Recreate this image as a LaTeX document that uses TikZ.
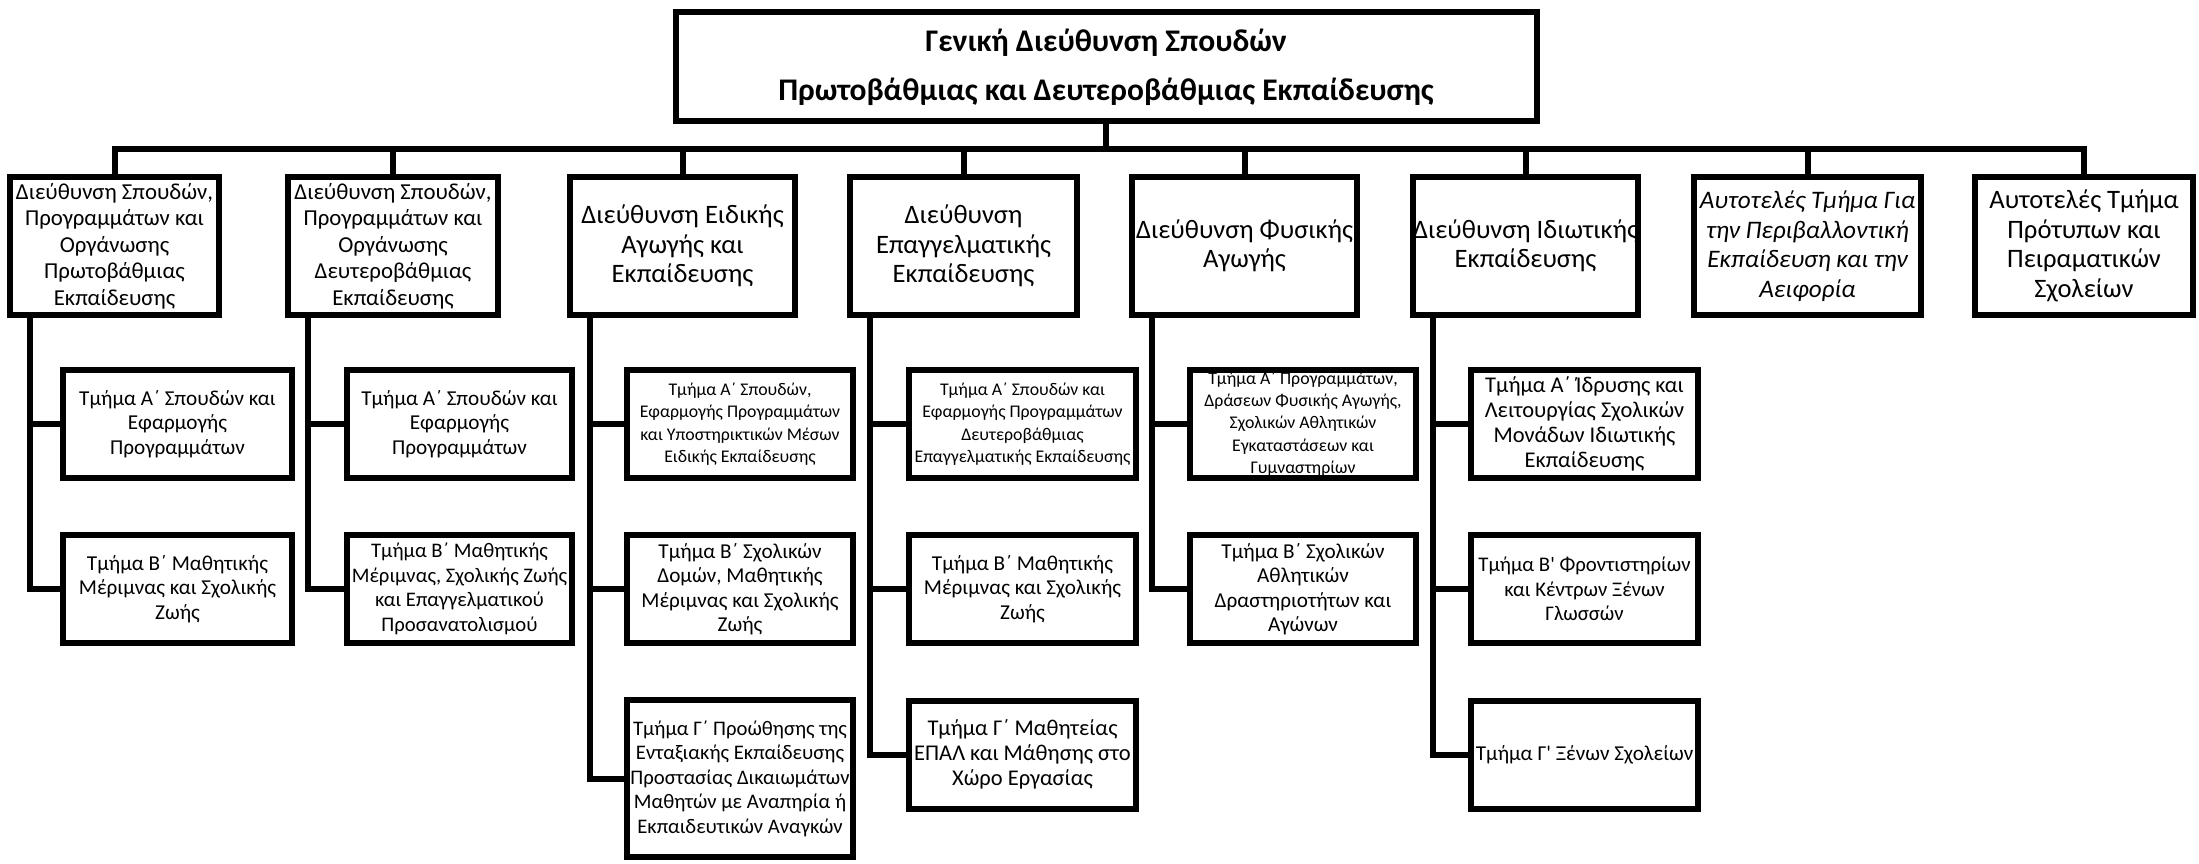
\documentclass[tikz,border=0pt]{standalone}
\usepackage{fontspec}
\setmainfont{Carlito}[Ligatures=TeXOff]

\begin{document}
\begin{tikzpicture}[x=1pt,y=-1pt,
  headbox/.style={draw,line width=6pt,inner sep=0pt,minimum width=861pt,minimum height=109pt,align=center,font=\bfseries\fontsize{31.5}{49}\selectfont},
  dirbox/.style={draw,line width=6pt,inner sep=0pt,minimum height=138pt,align=center,font=\fontsize{26.6}{29.5}\selectfont},
  deptbox/.style={draw,line width=6pt,inner sep=0pt,minimum height=108pt,align=center,font=\fontsize{21.2}{24.5}\selectfont},
  smalltext/.style={font=\fontsize{17.8}{22.4}\selectfont},
  link/.style={line width=6pt}]
  \useasboundingbox (0,0) rectangle (2199,864);

  % General directorate
  \node[headbox] (gd) at (1106,67) {Γενική Διεύθυνση Σπουδών\\Πρωτοβάθμιας και Δευτεροβάθμιας Εκπαίδευσης};
  \coordinate (bus) at (0,149);

  % Directorates
  \node[dirbox,minimum width=209pt,font=\fontsize{22.8}{26.5}\selectfont] (d1) at (114.5,246) {Διεύθυνση Σπουδών,\\Προγραμμάτων και\\Οργάνωσης\\Πρωτοβάθμιας\\Εκπαίδευσης};
  \node[dirbox,minimum width=210pt,font=\fontsize{22.8}{26.5}\selectfont] (d2) at (393,246) {Διεύθυνση Σπουδών,\\Προγραμμάτων και\\Οργάνωσης\\Δευτεροβάθμιας\\Εκπαίδευσης};
  \node[dirbox,minimum width=225pt] (d3) at (682.5,246) {Διεύθυνση Ειδικής\\Αγωγής και\\Εκπαίδευσης};
  \node[dirbox,minimum width=227pt] (d4) at (963.5,246) {Διεύθυνση\\Επαγγελματικής\\Εκπαίδευσης};
  \node[dirbox,minimum width=225pt] (d5) at (1244.5,246) {Διεύθυνση Φυσικής\\Αγωγής};
  \node[dirbox,minimum width=225pt] (d6) at (1525.5,246) {Διεύθυνση Ιδιωτικής\\Εκπαίδευσης};
  \node[dirbox,minimum width=227pt,font=\itshape\fontsize{25.2}{29.5}\selectfont] (d7) at (1807.5,246) {Αυτοτελές Τμήμα Για\\την Περιβαλλοντική\\Εκπαίδευση και την\\Αειφορία};
  \node[dirbox,minimum width=218pt] (d8) at (2084,246) {Αυτοτελές Τμήμα\\Πρότυπων και\\Πειραματικών\\Σχολείων};

  \draw[link] (gd.south) -- (gd.south |- bus);
  \draw[link] (d1.north) -- (d1.north |- bus) -- (d8.north |- bus) -- (d8.north);
  \foreach \n in {2,...,7}
    \draw[link] (d\n.north) -- (d\n.north |- bus);

  % Departments
  \node[deptbox,minimum width=229pt] (t1a) at (177.5,424) {Τμήμα Α΄ Σπουδών και\\Εφαρμογής\\Προγραμμάτων};
  \node[deptbox,minimum width=229pt] (t1b) at (177.5,589) {Τμήμα Β΄ Μαθητικής\\Μέριμνας και Σχολικής\\Ζωής};
  \node[deptbox,minimum width=225pt] (t2a) at (459.5,424) {Τμήμα Α΄ Σπουδών και\\Εφαρμογής\\Προγραμμάτων};
  \node[deptbox,minimum width=225pt,font=\fontsize{20.7}{24.5}\selectfont] (t2b) at (459.5,589) {Τμήμα Β΄ Μαθητικής\\Μέριμνας, Σχολικής Ζωής\\και Επαγγελματικού\\Προσανατολισμού};
  \node[deptbox,smalltext,minimum width=226pt] (t3a) at (740,424) {Τμήμα Α΄ Σπουδών,\\Εφαρμογής Προγραμμάτων\\και Υποστηρικτικών Μέσων\\Ειδικής Εκπαίδευσης};
  \node[deptbox,minimum width=226pt] (t3b) at (740,589) {Τμήμα Β΄ Σχολικών\\Δομών, Μαθητικής\\Μέριμνας και Σχολικής\\Ζωής};
  \node[deptbox,minimum width=226pt,minimum height=157pt,font=\fontsize{20.7}{24.5}\selectfont] (t3c) at (740,778.5) {Τμήμα Γ΄ Προώθησης της\\Ενταξιακής Εκπαίδευσης\\Προστασίας Δικαιωμάτων\\Μαθητών με Αναπηρία ή\\Εκπαιδευτικών Αναγκών};
  \node[deptbox,smalltext,minimum width=227pt] (t4a) at (1022.5,424) {Τμήμα Α΄ Σπουδών και\\Εφαρμογής Προγραμμάτων\\Δευτεροβάθμιας\\Επαγγελματικής Εκπαίδευσης};
  \node[deptbox,minimum width=227pt] (t4b) at (1022.5,589) {Τμήμα Β΄ Μαθητικής\\Μέριμνας και Σχολικής\\Ζωής};
  \node[deptbox,minimum width=227pt,font=\fontsize{22.5}{25}\selectfont] (t4c) at (1022.5,754.5) {Τμήμα Γ΄ Μαθητείας\\ΕΠΑΛ και Μάθησης στο\\Χώρο Εργασίας};
  \node[deptbox,smalltext,minimum width=226pt] (t5a) at (1303,424) {Τμήμα Α΄ Προγραμμάτων,\\Δράσεων Φυσικής Αγωγής,\\Σχολικών Αθλητικών\\Εγκαταστάσεων και\\Γυμναστηρίων};
  \node[deptbox,minimum width=226pt] (t5b) at (1303,589) {Τμήμα Β΄ Σχολικών\\Αθλητικών\\Δραστηριοτήτων και\\Αγώνων};
  \node[deptbox,minimum width=227pt,font=\fontsize{22.5}{25}\selectfont] (t6a) at (1584.5,424) {Τμήμα Α΄ Ίδρυσης και\\Λειτουργίας Σχολικών\\Μονάδων Ιδιωτικής\\Εκπαίδευσης};
  \node[deptbox,minimum width=227pt,font=\fontsize{20.8}{24.5}\selectfont] (t6b) at (1584.5,589) {Τμήμα Β' Φροντιστηρίων\\και Κέντρων Ξένων\\Γλωσσών};
  \node[deptbox,minimum width=227pt] (t6c) at (1584.5,754.5) {Τμήμα Γ' Ξένων Σχολείων};

  % Spines down from each directorate
  \foreach \n in {1,...,6}
    \coordinate (s\n) at ([xshift=23pt]d\n.south west);
  \draw[link] (s1) |- (t1b.west);
  \draw[link] (s1 |- t1a.west) -- (t1a.west);
  \draw[link] (s2) |- (t2b.west);
  \draw[link] (s2 |- t2a.west) -- (t2a.west);
  \draw[link] (s3) |- (t3c.west);
  \draw[link] (s3 |- t3a.west) -- (t3a.west);
  \draw[link] (s3 |- t3b.west) -- (t3b.west);
  \draw[link] (s4) |- (t4c.west);
  \draw[link] (s4 |- t4a.west) -- (t4a.west);
  \draw[link] (s4 |- t4b.west) -- (t4b.west);
  \draw[link] (s5) |- (t5b.west);
  \draw[link] (s5 |- t5a.west) -- (t5a.west);
  \draw[link] (s6) |- (t6c.west);
  \draw[link] (s6 |- t6a.west) -- (t6a.west);
  \draw[link] (s6 |- t6b.west) -- (t6b.west);
\end{tikzpicture}
\end{document}
